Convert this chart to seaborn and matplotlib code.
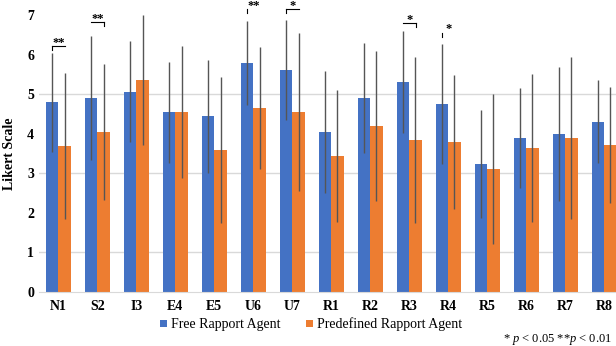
import numpy as np
import pandas as pd
import matplotlib
matplotlib.use("Agg")
import matplotlib.pyplot as plt
import seaborn as sns

categories = ["N1", "S2", "I3", "E4", "E5", "U6", "U7", "R1", "R2", "R3", "R4", "R5", "R6", "R7", "R8"]
free_mean = [4.80, 4.91, 5.06, 4.55, 4.45, 5.80, 5.62, 4.05, 4.91, 5.31, 4.75, 3.24, 3.89, 3.99, 4.30]
free_sd = [1.25, 1.57, 1.28, 1.28, 1.43, 1.06, 1.27, 1.55, 1.39, 1.30, 1.52, 1.37, 1.26, 1.69, 1.05]
pre_mean = [3.69, 4.05, 5.36, 4.55, 3.59, 4.65, 4.55, 3.44, 4.20, 3.84, 3.79, 3.10, 3.64, 3.89, 3.72]
pre_sd = [1.85, 1.72, 1.64, 1.68, 1.85, 1.54, 1.99, 1.67, 1.89, 2.10, 1.69, 1.90, 1.87, 2.05, 1.47]
series = ["Free Rapport Agent", "Predefined Rapport Agent"]
colors = ["#4472C4", "#ED7D31"]

# significance annotations
sig_cats = ["N1", "S2", "U6", "U7", "R3", "R4"]
sig_labels = ["**", "**", "**", "*", "*", "*"]
sig_heights = [6.22, 6.82, 7.16, 7.16, 6.80, 6.56]
sig_ticks = ["left", "right", "left", "left", "right", "left"]
sig_lines = [True, True, False, True, True, False]

df = pd.DataFrame({
    "cat": categories * 2,
    "agent": [series[0]] * len(categories) + [series[1]] * len(categories),
    "mean": free_mean + pre_mean,
})

plt.rcParams["font.family"] = ["Liberation Serif", "DejaVu Serif"]
plt.rcParams["mathtext.fontset"] = "custom"
plt.rcParams["mathtext.it"] = "Liberation Serif:italic"
plt.rcParams["mathtext.rm"] = "Liberation Serif"
fig = plt.figure(figsize=(6.16, 3.46), dpi=100)
ax = fig.add_axes([39 / 616, 54.2 / 346, (623.5 - 39) / 616, 276.5 / 346])

sns.barplot(data=df, x="cat", y="mean", hue="agent", palette=colors,
            width=0.64, errorbar=None, saturation=1, ax=ax, legend=True)

bar_conts = list(ax.containers)
sds = [free_sd, pre_sd]
means = [free_mean, pre_mean]
for k, cont in enumerate(bar_conts):
    xs = [p.get_x() + p.get_width() / 2 for p in cont.patches]
    m = np.array(means[k]); s = np.array(sds[k])
    lo = m - np.maximum(m - s, 0)
    hi = np.minimum(m + s, 7) - m
    ax.errorbar(xs, m, yerr=[lo, hi], fmt="none", ecolor="#555555",
                elinewidth=1.0, capsize=0, clip_on=False, zorder=4)

ax.set_ylim(0, 7)
ax.set_xlim(-0.5, len(categories) - 0.5)
ax.set_yticks(range(0, 8))
for g in [1, 3, 5]:
    ax.axhline(g, color="#d9d9d9", lw=1, zorder=0)
ax.set_axisbelow(True)
for s in ["top", "right", "left"]:
    ax.spines[s].set_visible(False)
ax.spines["bottom"].set_color("#d9d9d9")
ax.tick_params(axis="both", length=0, labelsize=10)
ax.tick_params(axis="x", pad=6)
for lab in ax.get_xticklabels() + ax.get_yticklabels():
    lab.set_fontweight("bold")
ax.set_xlabel("")
ax.set_ylabel("Likert Scale", fontsize=10, fontweight="bold", labelpad=8)

# significance brackets
for c, lab, h, side, has_line in zip(sig_cats, sig_labels, sig_heights, sig_ticks, sig_lines):
    i = categories.index(c)
    x0, x1 = i - 0.17, i + 0.17
    if has_line:
        ax.plot([x0, x1], [h, h], color="black", lw=0.8, clip_on=False)
    tx = x0 if side == "left" else x1
    ax.plot([tx, tx], [h, h - 0.1], color="black", lw=0.8, clip_on=False)
    ax.annotate(lab, xy=(i, h), xytext=(0, 0.3), textcoords="offset points",
                ha="center", va="baseline", fontsize=9, fontweight="bold",
                annotation_clip=False)

handles, labels = ax.get_legend_handles_labels()
ax.get_legend().remove()
fig.legend(handles, labels, loc="center", bbox_to_anchor=(0.505, 0.062), ncol=2,
           frameon=False, fontsize=10, handlelength=0.5, handleheight=0.5,
           handletextpad=0.3, columnspacing=1.8, borderpad=0)

fig.text(0.993, 0.02, r"* $\it{p}$ < 0.05 **$\it{p}$ < 0.01", ha="right", va="center", fontsize=9)

fig.savefig("out.png", dpi=100)
